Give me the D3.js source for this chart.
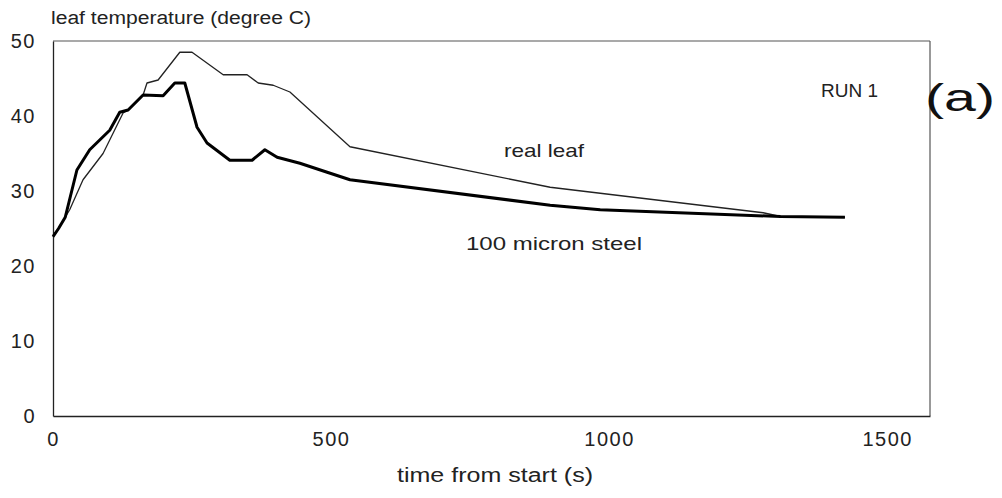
<!DOCTYPE html>
<html>
<head>
<meta charset="utf-8">
<script src="https://cdn.jsdelivr.net/npm/d3@7"></script>
<style>
  body { margin: 0; background: #fff; }
  svg text { font-family: "Liberation Sans", Arial, sans-serif; fill: #222; }
</style>
</head>
<body>
<svg id="mainSvg" width="1002" height="498"></svg>
<script>
// data
const timeLeaf = [0, 10, 30, 54, 90, 126, 135, 162, 169, 189, 228, 250, 306, 349, 369, 396, 426, 534, 894, 984, 1277, 1308, 1424];
const tempLeaf = [24.1, 25.0, 27.5, 31.5, 35.0, 40.4, 40.8, 42.8, 44.4, 44.8, 48.5, 48.5, 45.5, 45.5, 44.4, 44.1, 43.2, 35.9, 30.5, 29.7, 27.1, 26.6, 26.5];
const timeSteel = [0, 10, 22, 43, 66, 102, 120, 135, 162, 198, 219, 237, 259, 277, 318, 358, 381, 403, 444, 493, 534, 894, 984, 1308, 1424];
const tempSteel = [23.9, 25.0, 26.5, 32.8, 35.5, 38.1, 40.5, 40.8, 42.8, 42.7, 44.4, 44.4, 38.5, 36.4, 34.1, 34.1, 35.5, 34.5, 33.7, 32.5, 31.5, 28.1, 27.5, 26.6, 26.5];
const xTicks = [0, 500, 1000, 1500];
const yTicks = [0, 10, 20, 30, 40, 50];

let svg = d3.select('#mainSvg');
const plotLeft = 53, plotRight = 930, plotTop = 41, plotBottom = 416;

const x = d3.scaleLinear().domain([0, 1577]).range([plotLeft, plotRight]);
const y = d3.scaleLinear().domain([0, 50]).range([plotBottom, plotTop]);

// frame: top/right lighter like the scan
svg.append("line").attr("x1", plotLeft).attr("x2", plotRight).attr("y1", plotTop).attr("y2", plotTop)
    .attr("stroke", "#555").attr("stroke-width", 1.2);
svg.append("line").attr("x1", plotRight).attr("x2", plotRight).attr("y1", plotTop).attr("y2", plotBottom)
    .attr("stroke", "#555").attr("stroke-width", 1.2);

// axes without tick marks
const xAxis = svg.append("g")
    .attr("transform", `translate(0,${plotBottom})`)
    .call(d3.axisBottom(x).tickValues(xTicks).tickSize(0).tickPadding(16).tickFormat(d3.format("d")));
const yAxis = svg.append("g")
    .attr("transform", `translate(${plotLeft},0)`)
    .call(d3.axisLeft(y).tickValues(yTicks).tickSize(0).tickPadding(17).tickFormat(d3.format("d")));
[xAxis, yAxis].forEach(g => {
    g.select(".domain").attr("stroke", "#222").attr("stroke-width", 1.3);
    g.selectAll("text").attr("font-size", 20).attr("fill", "#222")
        .attr("font-family", "'Liberation Sans', Arial, sans-serif")
        .attr("letter-spacing", 1.5);
});

const line = d3.line().x(d => x(d[0])).y(d => y(d[1]));

svg.append("path")
    .datum(d3.zip(timeLeaf, tempLeaf))
    .attr("d", line)
    .attr("fill", "none")
    .attr("stroke", "#222")
    .attr("stroke-width", 1.3)
    .attr("stroke-linejoin", "round");

svg.append("path")
    .datum(d3.zip(timeSteel, tempSteel))
    .attr("d", line)
    .attr("fill", "none")
    .attr("stroke", "#000")
    .attr("stroke-width", 3)
    .attr("stroke-linejoin", "round");

// labels
svg.append("text").text("leaf temperature (degree C)")
    .attr("x", 51).attr("y", 24).attr("font-size", 18)
    .attr("textLength", 260).attr("lengthAdjust", "spacingAndGlyphs");
svg.append("text").text("time from start (s)")
    .attr("x", 397).attr("y", 482).attr("font-size", 20)
    .attr("textLength", 196).attr("lengthAdjust", "spacingAndGlyphs");
svg.append("text").text("real leaf")
    .attr("x", 504).attr("y", 157).attr("font-size", 19)
    .attr("textLength", 80).attr("lengthAdjust", "spacingAndGlyphs");
svg.append("text").text("100 micron steel")
    .attr("x", 466).attr("y", 250).attr("font-size", 19)
    .attr("textLength", 176).attr("lengthAdjust", "spacingAndGlyphs");
svg.append("text").text("RUN 1")
    .attr("x", 821).attr("y", 97).attr("font-size", 18)
    .attr("textLength", 57).attr("lengthAdjust", "spacingAndGlyphs");
// handwritten panel mark
svg.append("text").text("(a)")
    .attr("x", 925).attr("y", 111).attr("font-size", 38)
    .attr("font-family", "'DejaVu Sans', sans-serif")
    .style("font-weight", 200)
    .style("fill", "#111")
    .attr("textLength", 70).attr("lengthAdjust", "spacingAndGlyphs");
</script>
</body>
</html>
